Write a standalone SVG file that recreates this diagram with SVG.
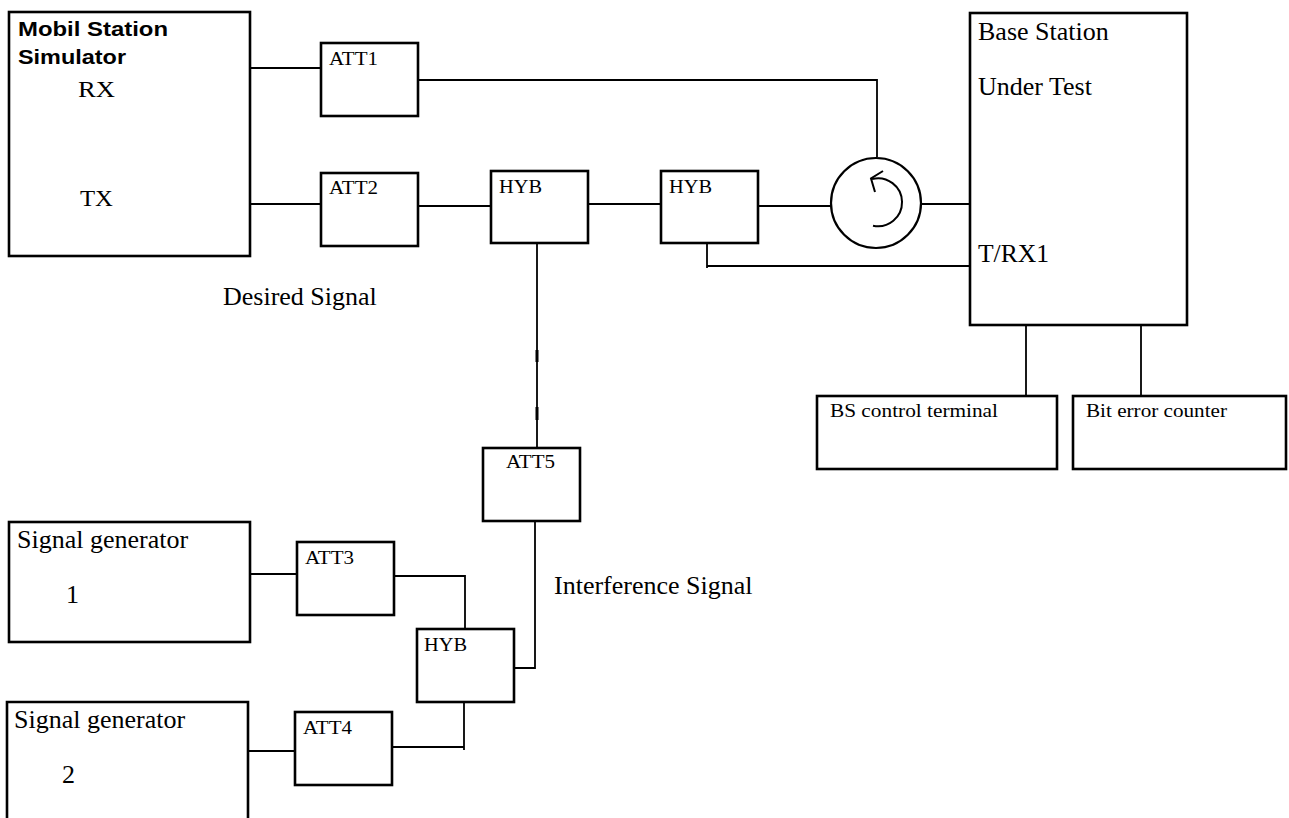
<svg xmlns="http://www.w3.org/2000/svg" width="1289" height="818" viewBox="0 0 1289 818">
<style>
.box{fill:#fff;stroke:#000;stroke-width:2.6}
.ln{fill:none;stroke:#000;stroke-width:1.8}
.t{font-family:"Liberation Serif","Times New Roman",serif;fill:#000}
.b{font-family:"Liberation Sans",Arial,sans-serif;font-weight:bold;fill:#000}
.s{font-size:19px}
.m{font-size:26px}
</style>
<rect width="1289" height="818" fill="#fff"/>
<g id="connectors">
<path class="ln" d="M250 68H321"/>
<path class="ln" d="M250 204H321"/>
<path class="ln" d="M418 80H877V157"/>
<path class="ln" d="M418 206H491"/>
<path class="ln" d="M588 204H661"/>
<path class="ln" d="M758 206H831"/>
<path class="ln" d="M921 204H972"/>
<path class="ln" d="M707 243V268M707 266H972"/>
<path class="ln" d="M1026 325V396"/>
<path class="ln" d="M1141 325V396"/>
<path class="ln" d="M537 243V448"/>
<path class="ln" d="M537 350V362M537 407V420" style="stroke-width:3"/>
<path class="ln" d="M535 521V668H511"/>
<path class="ln" d="M250 574H297"/>
<path class="ln" d="M394 576H465V629"/>
<path class="ln" d="M464 702V750M464 747H392"/>
<path class="ln" d="M248 751H298"/>
</g>
<g id="ms">
<rect class="box" x="9" y="12" width="241" height="244"/>
<text class="b" x="18" y="36" font-size="21" textLength="150" lengthAdjust="spacingAndGlyphs">Mobil Station</text>
<text class="b" x="18" y="64" font-size="21" textLength="108" lengthAdjust="spacingAndGlyphs">Simulator</text>
<text class="t" x="78" y="97" font-size="23" textLength="37" lengthAdjust="spacingAndGlyphs">RX</text>
<text class="t" x="80" y="206" font-size="23" textLength="33" lengthAdjust="spacingAndGlyphs">TX</text>
</g>
<g id="att1">
<rect class="box" x="321" y="43" width="97" height="73"/>
<text class="t s" x="329" y="65" textLength="49" lengthAdjust="spacingAndGlyphs">ATT1</text>
</g>
<g id="att2">
<rect class="box" x="321" y="173" width="97" height="73"/>
<text class="t s" x="329" y="194" textLength="49" lengthAdjust="spacingAndGlyphs">ATT2</text>
</g>
<g id="hyb1">
<rect class="box" x="491" y="171" width="97" height="72"/>
<text class="t s" x="499" y="193" textLength="43" lengthAdjust="spacingAndGlyphs">HYB</text>
</g>
<g id="hyb2">
<rect class="box" x="661" y="171" width="97" height="72"/>
<text class="t s" x="669" y="193" textLength="43" lengthAdjust="spacingAndGlyphs">HYB</text>
</g>
<g id="circulator">
<circle cx="876" cy="203" r="45" fill="#fff" stroke="#000" stroke-width="2.2"/>
<path class="ln" d="M872 179A24 24 0 1 1 873 225.7" style="stroke-width:2"/>
<path class="ln" d="M883 171L871 178.5L875 192" style="stroke-width:2"/>
</g>
<g id="bs">
<rect class="box" x="970" y="13" width="217" height="312"/>
<text class="t m" x="978" y="40">Base Station</text>
<text class="t m" x="978" y="95">Under Test</text>
<text class="t m" x="978" y="262" textLength="71" lengthAdjust="spacingAndGlyphs">T/RX1</text>
</g>
<g id="bsct">
<rect class="box" x="817" y="396" width="240" height="73"/>
<text class="t s" x="830" y="417" textLength="168" lengthAdjust="spacingAndGlyphs">BS control terminal</text>
</g>
<g id="bec">
<rect class="box" x="1073" y="396" width="213" height="73"/>
<text class="t s" x="1086" y="417" textLength="141" lengthAdjust="spacingAndGlyphs">Bit error counter</text>
</g>
<g id="att5">
<rect class="box" x="483" y="448" width="97" height="73"/>
<text class="t s" x="506" y="468" textLength="49" lengthAdjust="spacingAndGlyphs">ATT5</text>
</g>
<g id="sg1">
<rect class="box" x="9" y="522" width="241" height="120"/>
<text class="t m" x="17" y="548">Signal generator</text>
<text class="t m" x="66" y="603">1</text>
</g>
<g id="att3">
<rect class="box" x="297" y="542" width="97" height="73"/>
<text class="t s" x="305" y="564" textLength="49" lengthAdjust="spacingAndGlyphs">ATT3</text>
</g>
<g id="hyb3">
<rect class="box" x="417" y="629" width="97" height="73"/>
<text class="t s" x="424" y="651" textLength="43" lengthAdjust="spacingAndGlyphs">HYB</text>
</g>
<g id="att4">
<rect class="box" x="295" y="712" width="97" height="73"/>
<text class="t s" x="303" y="734" textLength="49" lengthAdjust="spacingAndGlyphs">ATT4</text>
</g>
<g id="sg2">
<path class="box" d="M7 822V702H248V822" style="fill:#fff"/>
<text class="t m" x="14" y="728">Signal generator</text>
<text class="t m" x="62" y="783">2</text>
</g>
<g id="labels">
<text class="t m" x="223" y="305">Desired Signal</text>
<text class="t m" x="554" y="594">Interference Signal</text>
</g>
</svg>
